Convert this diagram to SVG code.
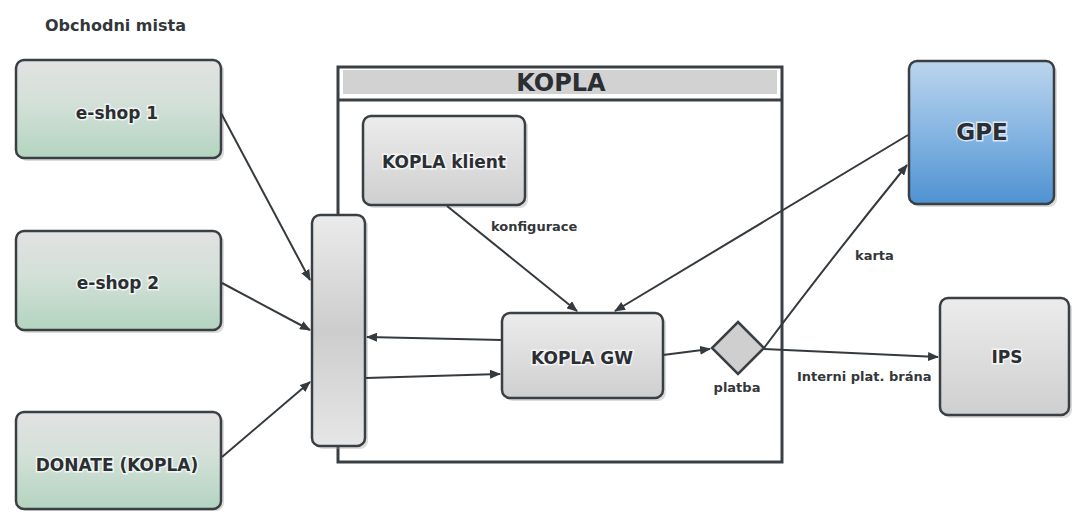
<svg xmlns="http://www.w3.org/2000/svg" width="1073" height="512" viewBox="0 0 1073 512">
<defs>
<linearGradient id="gGreen" x1="0" y1="0" x2="0" y2="1">
<stop offset="0" stop-color="#e2e2e2"/>
<stop offset="0.45" stop-color="#d3e0d8"/>
<stop offset="1" stop-color="#b3d4c0"/>
</linearGradient>
<linearGradient id="gGray" x1="0" y1="0" x2="0" y2="1">
<stop offset="0" stop-color="#ececec"/>
<stop offset="1" stop-color="#cfcfcf"/>
</linearGradient>
<linearGradient id="gBar" x1="0" y1="0" x2="0" y2="1">
<stop offset="0" stop-color="#ebebeb"/>
<stop offset="0.5" stop-color="#cdcdcd"/>
<stop offset="1" stop-color="#e6e6e6"/>
</linearGradient>
<linearGradient id="gBlue" x1="0" y1="0" x2="0" y2="1">
<stop offset="0" stop-color="#bcd5ee"/>
<stop offset="0.5" stop-color="#86b5e2"/>
<stop offset="1" stop-color="#4f92d2"/>
</linearGradient>
<marker id="arr" markerWidth="11" markerHeight="9" refX="10" refY="4.5" orient="auto" markerUnits="userSpaceOnUse">
<path d="M0,0 L11,4.5 L0,9 z" fill="#353a3f"/>
</marker>
</defs>
<style>
.node{stroke:#3a3f44;stroke-width:2.5}
.shadow{fill:#9a9a9a;opacity:0.35}
.lbl{font-family:"DejaVu Sans",sans-serif;font-weight:bold;fill:#2b2f33;text-anchor:middle;stroke:#ffffff;stroke-width:3;stroke-opacity:0.7;paint-order:stroke}
.small{font-family:"DejaVu Sans",sans-serif;font-weight:bold;fill:#33373b;font-size:13px}
.conn{stroke:#353a3f;stroke-width:2;fill:none}
</style>
<rect width="1073" height="512" fill="#ffffff"/>

<text x="45" y="31" class="small" style="font-size:16px">Obchodni mista</text>

<g id="kopla">
<rect x="338" y="67" width="444" height="395" fill="#ffffff" stroke="#3a3f44" stroke-width="3"/>
<rect x="343" y="70" width="434" height="24" fill="#d2d2d2"/>
<line x1="338" y1="100" x2="782" y2="100" stroke="#3a3f44" stroke-width="3"/>
<text x="561" y="91" class="lbl" style="font-size:24px;stroke:none">KOPLA</text>
</g>

<g id="eshop1">
<rect x="19" y="63" width="205" height="98" rx="8" class="shadow"/>
<rect x="16" y="60" width="205" height="98" rx="8" fill="url(#gGreen)" class="node"/>
<text x="117" y="119" class="lbl" font-size="17">e-shop 1</text>
</g>

<g id="eshop2">
<rect x="19" y="234" width="205" height="99" rx="8" class="shadow"/>
<rect x="16" y="231" width="205" height="99" rx="8" fill="url(#gGreen)" class="node"/>
<text x="118" y="289" class="lbl" font-size="17">e-shop 2</text>
</g>

<g id="donate">
<rect x="19" y="415" width="205" height="96" rx="8" class="shadow"/>
<rect x="16" y="412" width="205" height="97" rx="8" fill="url(#gGreen)" class="node"/>
<text x="117" y="471" class="lbl" font-size="17">DONATE (KOPLA)</text>
</g>

<g id="bar">
<rect x="315" y="218" width="53" height="231" rx="8" class="shadow"/>
<rect x="312" y="215" width="53" height="231" rx="8" fill="url(#gBar)" class="node"/>
</g>

<g id="klient">
<rect x="366" y="119" width="162" height="89" rx="8" class="shadow"/>
<rect x="363" y="116" width="162" height="89" rx="8" fill="url(#gGray)" class="node"/>
<text x="444" y="168" class="lbl" font-size="17">KOPLA klient</text>
</g>

<g id="gw">
<rect x="505" y="316" width="161" height="85" rx="8" class="shadow"/>
<rect x="502" y="313" width="161" height="85" rx="8" fill="url(#gGray)" class="node"/>
<text x="582" y="364" class="lbl" font-size="17">KOPLA GW</text>
</g>

<g id="platba">
<path d="M738,322 L764,348 L738,374 L712,348 z" fill="#cfcfcf" class="node"/>
<text x="737" y="392" class="small" text-anchor="middle">platba</text>
</g>

<g id="gpe">
<rect x="912" y="64" width="145" height="143" rx="8" class="shadow"/>
<rect x="909" y="61" width="145" height="143" rx="8" fill="url(#gBlue)" class="node"/>
<text x="982" y="140" class="lbl" font-size="23">GPE</text>
</g>

<g id="ips">
<rect x="943" y="301" width="129" height="117" rx="8" class="shadow"/>
<rect x="940" y="298" width="129" height="117" rx="8" fill="url(#gGray)" class="node"/>
<text x="1007" y="363" class="lbl" font-size="17">IPS</text>
</g>

<g id="connectors">
<line x1="221" y1="113" x2="310" y2="280" class="conn" marker-end="url(#arr)"/>
<line x1="222" y1="283" x2="310" y2="330" class="conn" marker-end="url(#arr)"/>
<line x1="222" y1="457" x2="310" y2="382" class="conn" marker-end="url(#arr)"/>
<line x1="502" y1="340" x2="367" y2="337" class="conn" marker-end="url(#arr)"/>
<line x1="366" y1="378" x2="500" y2="374" class="conn" marker-end="url(#arr)"/>
<line x1="447" y1="206" x2="577" y2="311" class="conn" marker-end="url(#arr)"/>
<line x1="908" y1="135" x2="615" y2="311" class="conn" marker-end="url(#arr)"/>
<line x1="663" y1="355" x2="710" y2="349" class="conn" marker-end="url(#arr)"/>
<path d="M764,348 Q830,260 907,165" class="conn" marker-end="url(#arr)"/>
<line x1="764" y1="349" x2="938" y2="357" class="conn" marker-end="url(#arr)"/>
<text x="491" y="231" class="small">konfigurace</text>
<text x="855" y="260" class="small">karta</text>
<text x="797" y="381" class="small">Interni plat. brána</text>
</g>
</svg>
